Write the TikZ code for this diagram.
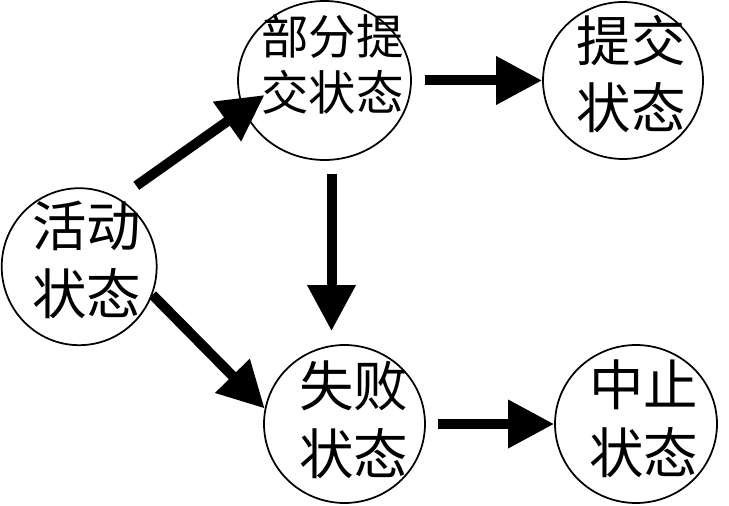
\documentclass[tikz,border=0pt]{standalone}
\usepackage{fontspec}
\usepackage{tikz}
\usetikzlibrary{shapes.geometric,arrows.meta}
\newfontfamily\cjk{Noto Sans CJK SC}

\begin{document}
\begin{tikzpicture}[x=0.02cm,y=-0.02cm,
    state/.style={draw,ellipse,line width=1pt,inner sep=0pt},
    lbl/.style={align=center,inner sep=0pt},
    big/.style={font=\cjk\fontsize{31pt}{38.6pt}\selectfont},
    small/.style={font=\cjk\fontsize{27pt}{31.8pt}\selectfont},
    flow/.style={line width=0.2cm,-{Triangle[length=0.92cm,width=0.92cm]}}]
        \useasboundingbox (0,0) rectangle (729,506);
        % states
        \node[state,minimum width=3.1cm,minimum height=3.14cm] (act) at (79.2,266.7) {};
        \node[state,minimum width=3.46cm,minimum height=3.18cm] (part) at (324.5,80.5) {};
        \node[state,minimum width=3.2cm,minimum height=3.14cm] (commit) at (623,80.5) {};
        \node[state,minimum width=3.22cm,minimum height=3.16cm] (fail) at (344.5,424) {};
        \node[state,minimum width=3.24cm,minimum height=3.16cm] (abort) at (636,424) {};
        % texts
        \node[lbl,big] (actlbl) at ([shift={(7.3,-6.7)}]act.center) {活动\\状态};
        \node[lbl,small] (partlbl) at ([shift={(8,-16)}]part.center) {部分提\\交状态};
        \node[lbl,big] (commitlbl) at ([shift={(8,-6.5)}]commit.center) {提交\\状态};
        \node[lbl,big] (faillbl) at ([shift={(9,-4)}]fail.center) {失败\\状态};
        \node[lbl,big] (abortlbl) at ([shift={(7.5,-5)}]abort.center) {中止\\状态};
        % transitions
        \draw[flow,shorten <=0.43cm,shorten >=-0.52cm] (act.60) -- (part.200);
        \draw[flow,shorten <=0.26cm] (part.east) -- (commit.west);
        \draw[flow,shorten <=0.27cm,shorten >=0.28cm] (part.275) -- (part.275 |- fail.99);
        \draw[flow] (act.-21) -- (fail.169);
        \draw[flow,shorten <=0.24cm] (fail.east) -- (abort.west);
    \end{tikzpicture}
\end{document}
